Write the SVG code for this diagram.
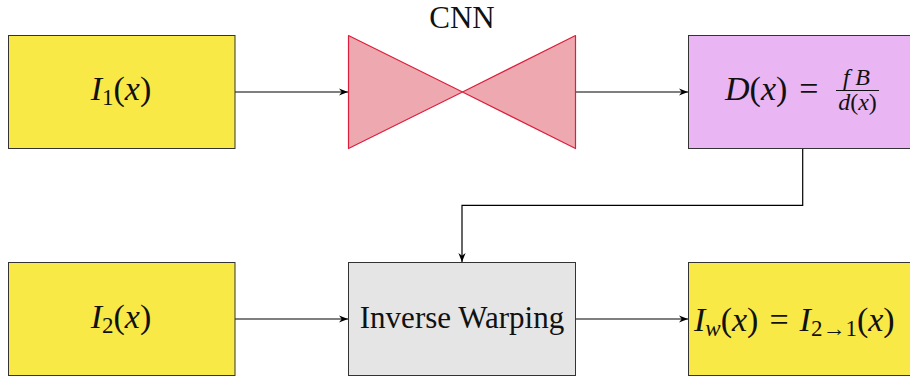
<svg xmlns="http://www.w3.org/2000/svg" width="910" height="382" viewBox="0 0 910 382">
<style>
.box{stroke:#333;stroke-width:1}
.yel{fill:#F8E946}
.pur{fill:#E9B5F3}
.gry{fill:#E5E5E5}
text{font-family:'Liberation Serif','Times New Roman',serif;font-size:31px;fill:#111}
.m{font-size:34px}
.fr{font-size:24px}
.sub{font-size:23px}
.i{font-style:italic}
.con{fill:none;stroke:#000;stroke-width:1.2}
</style>
<defs>
<marker id="ah" viewBox="0 0 10 10" refX="10" refY="5" markerWidth="9" markerHeight="9" markerUnits="userSpaceOnUse" orient="auto">
<path d="M0,1 L10,5 L0,9 L3,5 Z" fill="#000"/>
</marker>
</defs>
<g id="connectors">
<line class="con" x1="235" y1="92" x2="348" y2="92" marker-end="url(#ah)"/>
<line class="con" x1="576" y1="92" x2="688" y2="92" marker-end="url(#ah)"/>
<polyline class="con" points="802.7,149 802.7,205.3 462,205.3 462,262" marker-end="url(#ah)"/>
<line class="con" x1="235" y1="319" x2="348" y2="319" marker-end="url(#ah)"/>
<line class="con" x1="576" y1="319" x2="688" y2="319" marker-end="url(#ah)"/>
</g>
<g id="I1">
<rect class="box yel" x="8.5" y="35.5" width="226.5" height="113"/>
<text class="m" x="121" y="100" text-anchor="middle"><tspan class="i">I</tspan><tspan class="sub" dy="5">1</tspan><tspan dy="-5">(</tspan><tspan class="i">x</tspan>)</text>
</g>
<g id="CNN">
<polygon points="348.5,35.5 462.5,92 348.5,148.5" fill="#EEA8AF" stroke="#DC1F3C" stroke-width="1.2" stroke-linejoin="round"/>
<polygon points="575.5,35.5 462.5,92 575.5,148.5" fill="#EEA8AF" stroke="#DC1F3C" stroke-width="1.2" stroke-linejoin="round"/>
<text x="462" y="28" text-anchor="middle">CNN</text>
</g>
<g id="D">
<rect class="box pur" x="688.5" y="35.5" width="227" height="113"/>
<text class="m" x="725" y="100"><tspan class="i">D</tspan>(<tspan class="i">x</tspan>)<tspan dx="12">=</tspan></text>
<text class="fr i" x="843" y="85" textLength="27" lengthAdjust="spacing">fB</text>
<line x1="836" y1="90.5" x2="879" y2="90.5" stroke="#111" stroke-width="1"/>
<text class="fr" x="857.5" y="110" text-anchor="middle"><tspan class="i">d</tspan>(<tspan class="i">x</tspan>)</text>
</g>
<g id="I2">
<rect class="box yel" x="8.5" y="262.5" width="226.5" height="113"/>
<text class="m" x="121" y="328" text-anchor="middle"><tspan class="i">I</tspan><tspan class="sub" dy="5">2</tspan><tspan dy="-5">(</tspan><tspan class="i">x</tspan>)</text>
</g>
<g id="warp">
<rect class="box gry" x="348.5" y="262.5" width="227" height="113"/>
<text x="462" y="328" text-anchor="middle">Inverse Warping</text>
</g>
<g id="Iw">
<rect class="box yel" x="688.5" y="262.5" width="227" height="113"/>
<text class="m" x="694" y="331"><tspan class="i">I</tspan><tspan class="i sub" dy="5">w</tspan><tspan dy="-5">(</tspan><tspan class="i">x</tspan>)<tspan dx="11">=</tspan><tspan class="i" dx="11">I</tspan><tspan class="sub" dy="5">2→1</tspan><tspan dy="-5">(</tspan><tspan class="i">x</tspan>)</text>
</g>
</svg>
